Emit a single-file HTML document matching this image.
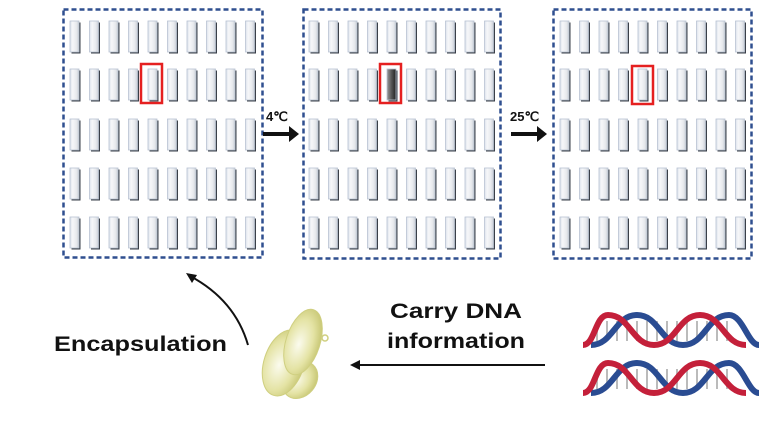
<!DOCTYPE html>
<html><head><meta charset="utf-8"><style>
html,body{margin:0;padding:0;background:#fff;width:767px;height:426px;overflow:hidden}
svg text{font-family:"Liberation Sans",sans-serif;font-weight:bold;fill:#111}
</style></head><body>
<svg id="s" width="767" height="426" viewBox="0 0 767 426" xmlns="http://www.w3.org/2000/svg">
<defs>
<linearGradient id="cg" x1="0" x2="1">
<stop offset="0" stop-color="#dde3ec"/><stop offset="0.3" stop-color="#f6f7f9"/><stop offset="0.7" stop-color="#e8eaee"/><stop offset="1" stop-color="#c9ced6"/>
</linearGradient>
<linearGradient id="dg" x1="0" x2="1">
<stop offset="0" stop-color="#999"/><stop offset="0.5" stop-color="#555"/><stop offset="1" stop-color="#222"/>
</linearGradient>
<radialGradient id="yg" cx="0.4" cy="0.55" r="0.7">
<stop offset="0" stop-color="#fbfbee"/><stop offset="0.55" stop-color="#e4e3a4"/><stop offset="1" stop-color="#bdbc62"/>
</radialGradient>
</defs>
<g id="cells"></g>
<rect x="63.5" y="9.5" width="199" height="248" fill="none" stroke="#2f4f8f" stroke-width="2.5" stroke-dasharray="5,3"/>
<rect x="303.5" y="9.5" width="197" height="249" fill="none" stroke="#2f4f8f" stroke-width="2.5" stroke-dasharray="5,3"/>
<rect x="553.5" y="9.5" width="198" height="249" fill="none" stroke="#2f4f8f" stroke-width="2.5" stroke-dasharray="5,3"/>
<rect x="141" y="64" width="21" height="39" fill="none" stroke="#e52020" stroke-width="2.5"/>
<rect x="380" y="64" width="21" height="39" fill="none" stroke="#e52020" stroke-width="2.5"/>
<rect x="632" y="66" width="21" height="38" fill="none" stroke="#e52020" stroke-width="2.5"/>
<text x="266" y="121" font-size="13">4℃</text>
<line x1="263" y1="134" x2="292" y2="134" stroke="#111" stroke-width="4"/>
<path d="M289,126 L299,134 L289,142 z" fill="#111"/>
<text x="510" y="121" font-size="13">25℃</text>
<line x1="511" y1="134" x2="540" y2="134" stroke="#111" stroke-width="4"/>
<path d="M537,126 L547,134 L537,142 z" fill="#111"/>
<text x="390" y="318" font-size="21" textLength="132" lengthAdjust="spacingAndGlyphs">Carry DNA</text>
<text x="387" y="348" font-size="21" textLength="138" lengthAdjust="spacingAndGlyphs">information</text>
<text x="54" y="351" font-size="21" textLength="173" lengthAdjust="spacingAndGlyphs">Encapsulation</text>
<line x1="545" y1="365" x2="358" y2="365" stroke="#111" stroke-width="2"/>
<path d="M360,360 L350,365 L360,370 z" fill="#111"/>
<path d="M248,345 Q235,300 190,276" fill="none" stroke="#111" stroke-width="2"/>
<path d="M186,273 L197,275 L192,283 z" fill="#111"/>
<ellipse cx="300" cy="380" rx="16" ry="20" transform="rotate(40 300 380)" fill="url(#yg)" stroke="#cfcf80"/>
<ellipse cx="284" cy="363" rx="20" ry="34" transform="rotate(18 284 363)" fill="url(#yg)" stroke="#cfcf80"/>
<ellipse cx="303" cy="342" rx="17" ry="34" transform="rotate(18 303 342)" fill="url(#yg)" stroke="#cfcf80"/>
<circle cx="325" cy="338" r="3" fill="none" stroke="#cfcf80" stroke-width="1.5"/>
<g id="dna" fill="none" stroke-width="6"></g>
</svg>
<script>
var g=document.getElementById('cells'),h='';
var panels=[70,309,560];var rows=[21,69,119,168,217];var dx=19.5;
for(var p=0;p<3;p++)for(var r=0;r<5;r++)for(var c=0;c<10;c++){
var x=panels[p]+c*dx,y=rows[r];
var dark=(p==1&&r==1&&c==4);
h+='<rect x="'+(x+1.5)+'" y="'+(y+1.5)+'" width="9" height="31" fill="#3a3f48"/>';
h+='<rect x="'+x+'" y="'+y+'" width="9" height="31" fill="'+(dark?'url(#dg)':'url(#cg)')+'" stroke="#b9c3d3" stroke-width="0.8"/>';
}
g.innerHTML=h;
var d=document.getElementById('dna'),s='';
[[583,315,345],[583,363,393]].forEach(function(a){
var x0=a[0],t=a[1],b=a[2];
for(var i=0;i<14;i++){var x=x0+14+i*10;s+='<line x1="'+x+'" y1="'+(t+6)+'" x2="'+x+'" y2="'+(b-4)+'" stroke="#bbb" stroke-width="2"/>';}
s+='<path d="M'+(x0+8)+','+b+' C'+(x0+30)+','+b+' '+(x0+32)+','+t+' '+(x0+54)+','+t+' C'+(x0+76)+','+t+' '+(x0+78)+','+b+' '+(x0+100)+','+b+' C'+(x0+122)+','+b+' '+(x0+124)+','+t+' '+(x0+146)+','+t+' C'+(x0+160)+','+t+' '+(x0+165)+','+b+' '+(x0+176)+','+b+'" stroke="#2a4c92"/>';
s+='<path d="M'+x0+','+b+' C'+(x0+12)+','+b+' '+(x0+12)+','+t+' '+(x0+25)+','+t+' C'+(x0+47)+','+t+' '+(x0+49)+','+b+' '+(x0+71)+','+b+' C'+(x0+93)+','+b+' '+(x0+95)+','+t+' '+(x0+117)+','+t+' C'+(x0+139)+','+t+' '+(x0+141)+','+b+' '+(x0+163)+','+b+'" stroke="#c4203a"/>';
});
d.innerHTML=s;
</script>
</body></html>
